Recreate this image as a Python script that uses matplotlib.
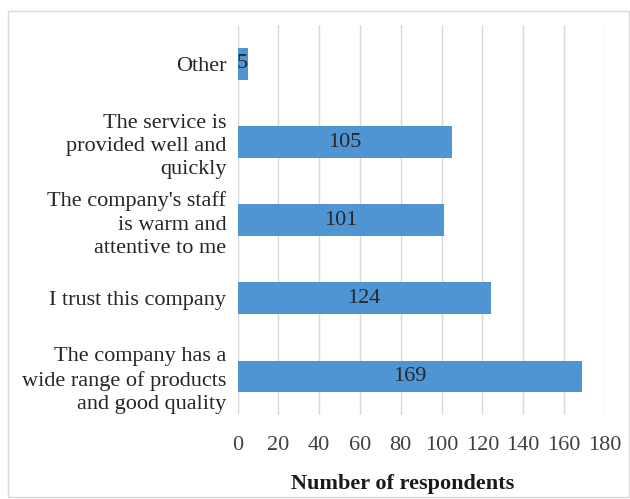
import matplotlib.pyplot as plt
from matplotlib.patches import Rectangle

plt.rcParams['font.family'] = ['Liberation Serif', 'DejaVu Serif']

categories = ['The company has a\nwide range of products\nand good quality',
              'I trust this company',
              "The company's staff\nis warm and\nattentive to me",
              'The service is\nprovided well and\nquickly',
              'Other']
counts = [169, 124, 101, 105, 5]
xticks = [0, 20, 40, 60, 80, 100, 120, 140, 160, 180]

fig = plt.figure(figsize=(6.3, 4.99), dpi=100)
ax = fig.add_axes([0.377, 0.168, 0.583, 0.782])

pos = range(len(categories))
bars = ax.barh(pos, counts, height=0.4, color='#5095D3', zorder=3)
for b, v in zip(bars, counts):
    ax.text(b.get_width() / 2, b.get_y() + b.get_height() / 2, str(v),
            ha='center', va='center', fontsize=16, color='#262626', zorder=4)

ax.set_yticks(list(pos))
ax.set_yticklabels(categories, fontsize=16, color='#262626', linespacing=1.3)
ax.set_xticks(xticks)
ax.set_xticklabels([str(t) for t in xticks], fontsize=16, color='#404040')
ax.set_xlim(0, 180)
ax.set_ylim(-0.5, len(categories) - 0.5)
ax.tick_params(length=0, axis='x', pad=15)
ax.tick_params(length=0, axis='y', pad=8)
ax.grid(axis='x', color='#d9d9d9', linewidth=1, zorder=0)
for s in ax.spines.values():
    s.set_visible(False)
ax.set_xlabel('Number of respondents', fontsize=16, fontweight='bold',
              color='#1a1a1a')
ax.xaxis.set_label_coords(0.45, -0.152)

fig.patches.append(Rectangle((0.013, 0.004), 0.985, 0.974, transform=fig.transFigure,
                             fill=False, edgecolor='#d9d9d9', linewidth=1))

fig.savefig('out.png', dpi=100)
